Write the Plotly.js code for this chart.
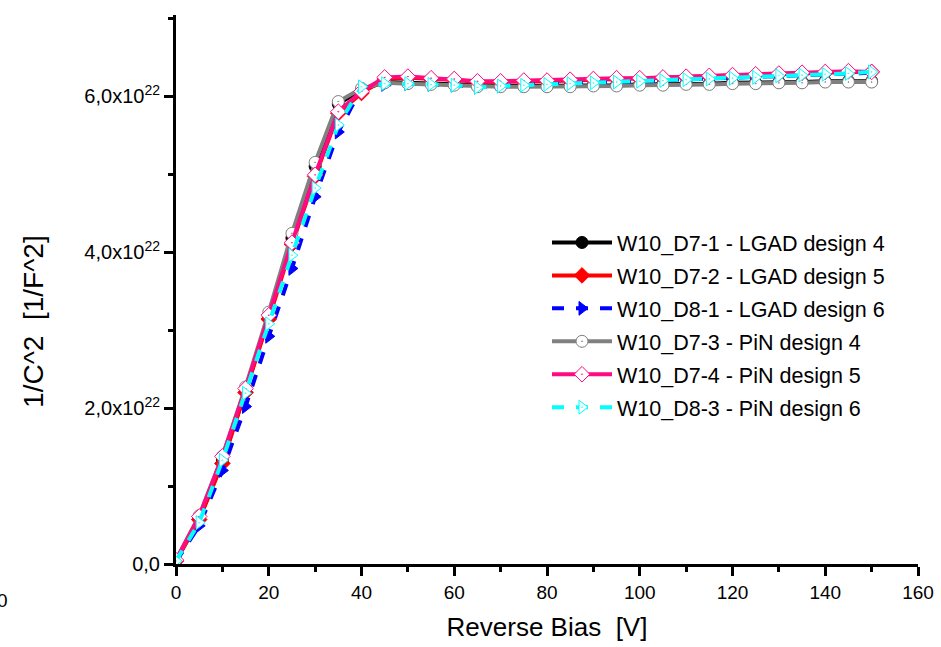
<!DOCTYPE html>
<html>
<head>
<meta charset="utf-8">
<script src="https://cdn.plot.ly/plotly-3.0.1.min.js"></script>
<style>
html,body{margin:0;padding:0;background:#fff;}
#chart{width:941px;height:647px;}
</style>
</head>
<body>
<div id="chart"></div>
<script>
// Reverse bias voltage [V]
const bias = [0,5,10,15,20,25,30,35,40,45,50,55,60,65,70,75,80,85,90,95,100,105,110,115,120,125,130,135,140,145,150];

// 1/C^2 values in units of 1e22 [1/F^2]
const d7_1_lgad4 = [0.04,0.58,1.32,2.22,3.18,4.18,5.10,5.90,6.08,6.18,6.17,6.16,6.15,6.13,6.13,6.13,6.13,6.13,6.14,6.14,6.15,6.15,6.16,6.16,6.17,6.17,6.18,6.18,6.19,6.19,6.19];
const d7_2_lgad5 = [0.04,0.57,1.29,2.20,3.14,4.10,4.97,5.78,6.04,6.22,6.24,6.22,6.21,6.18,6.18,6.19,6.19,6.20,6.21,6.22,6.22,6.23,6.24,6.25,6.26,6.27,6.28,6.29,6.30,6.31,6.31];
const d8_1_lgad6 = [0.03,0.49,1.20,2.02,2.92,3.79,4.71,5.54,6.10,6.15,6.16,6.15,6.14,6.12,6.13,6.14,6.15,6.16,6.17,6.18,6.19,6.20,6.21,6.22,6.23,6.24,6.26,6.27,6.28,6.29,6.30];
const d7_3_pin4 = [0.05,0.62,1.38,2.27,3.23,4.24,5.15,5.93,6.10,6.17,6.16,6.15,6.14,6.12,6.12,6.12,6.12,6.12,6.13,6.13,6.14,6.14,6.15,6.15,6.16,6.16,6.17,6.17,6.18,6.18,6.18];
const d7_4_pin5 = [0.05,0.61,1.38,2.25,3.19,4.12,4.99,5.80,6.06,6.24,6.25,6.23,6.22,6.19,6.19,6.20,6.20,6.21,6.22,6.23,6.23,6.24,6.25,6.26,6.27,6.28,6.29,6.30,6.31,6.32,6.31];
const d8_3_pin6 = [0.04,0.53,1.33,2.19,3.08,3.96,4.82,5.63,6.12,6.16,6.16,6.15,6.14,6.11,6.13,6.14,6.15,6.16,6.17,6.18,6.19,6.20,6.21,6.22,6.23,6.24,6.26,6.27,6.28,6.29,6.31];

const seriesNames = [
  "W10_D7-1 - LGAD design 4",
  "W10_D7-2 - LGAD design 5",
  "W10_D8-1 - LGAD design 6",
  "W10_D7-3 - PiN design 4",
  "W10_D7-4 - PiN design 5",
  "W10_D8-3 - PiN design 6"
];
const seriesData = [d7_1_lgad4, d7_2_lgad5, d8_1_lgad6, d7_3_pin4, d7_4_pin5, d8_3_pin6];

const yTickVals = [0, 2, 4, 6];
const yTickText = ["0,0", "2,0x10<sup>22</sup>", "4,0x10<sup>22</sup>", "6,0x10<sup>22</sup>"];
const xTickVals = [0,20,40,60,80,100,120,140,160];

const styles = [
  {color:'#000000', dash:'solid', symbol:'circle', fill:'#000000'},
  {color:'#FF0000', dash:'solid', symbol:'diamond', fill:'#FF0000'},
  {color:'#0000FF', dash:'dash', symbol:'triangle-right', fill:'#0000FF'},
  {color:'#808080', dash:'solid', symbol:'circle-dot', fill:'#FFFFFF'},
  {color:'#FF0A80', dash:'solid', symbol:'diamond-dot', fill:'#FFFFFF'},
  {color:'#00FFFF', dash:'dash', symbol:'triangle-right-dot', fill:'#FFFFFF'}
];

const scale = 1e22;
const traces = seriesData.map((vals, i) => ({
  x: bias,
  y: vals.map(v => v * scale),
  name: seriesNames[i],
  legendgroup: 'g' + i,
  type: 'scatter',
  mode: 'lines+markers',
  line: {color: styles[i].color, width: 4, dash: styles[i].dash},
  marker: {symbol: styles[i].symbol, size: 12, color: styles[i].fill,
           line: {color: styles[i].color, width: 1}}
}));

const layout = {
  width: 941, height: 647,
  margin: {l: 176, r: 23, t: 15, b: 83},
  paper_bgcolor: '#fff', plot_bgcolor: '#fff',
  font: {family: 'Liberation Sans, Arial, sans-serif', color: '#000', size: 19},
  showlegend: true,
  legend: {x: 0.5, y: 0.623, xanchor: 'left', yanchor: 'top',
           bgcolor: 'rgba(0,0,0,0)', itemwidth: 60, tracegroupgap: 2,
           font: {size: 21.5}},
  xaxis: {
    range: [0, 160], showgrid: false, zeroline: false,
    showline: true, linecolor: '#000', linewidth: 3,
    ticks: 'outside', ticklen: 9, tickwidth: 3, tickcolor: '#000',
    tickvals: xTickVals, tickfont: {size: 19},
    minor: {dtick: 10, ticks: 'outside', ticklen: 5, tickwidth: 3, tickcolor: '#000'},
    title: {text: 'Reverse Bias  [V]', font: {size: 26}, standoff: 17}
  },
  yaxis: {
    range: [0, 7.04e22], showgrid: false, zeroline: false,
    showline: true, linecolor: '#000', linewidth: 3,
    ticks: 'outside', ticklen: 9, tickwidth: 3, tickcolor: '#000',
    tickvals: yTickVals.map(v => v * scale), ticktext: yTickText, tickfont: {size: 20},
    minor: {dtick: 1e22, ticks: 'outside', ticklen: 5, tickwidth: 3, tickcolor: '#000'}
  },
  annotations: [
    {text: '1/C^2  [1/F^2]', xref: 'paper', yref: 'paper', x: -0.192, y: 0.442,
     textangle: -90, showarrow: false, font: {size: 28}, xanchor: 'center', yanchor: 'middle'},
    {text: '0', xref: 'paper', yref: 'paper', x: -0.2345, y: -0.066,
     showarrow: false, font: {size: 19}, xanchor: 'center', yanchor: 'middle'}
  ]
};

Plotly.newPlot('chart', traces, layout, {displayModeBar: false, staticPlot: true});
</script>
</body>
</html>
